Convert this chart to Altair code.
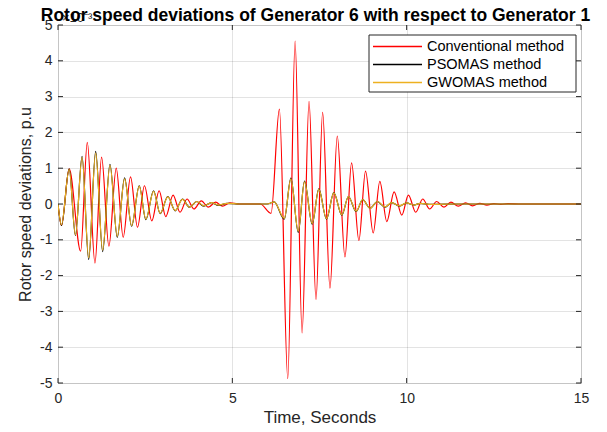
import altair as alt
import pandas as pd

# ---- data (values in units of 1e-3 p.u.) ----
conv_t = [0, 0.1, 0.32, 0.65, 0.84, 1.06, 1.25, 1.46, 1.67, 1.87, 2.08, 2.28, 2.48, 2.69, 2.9,
          3.09, 3.3, 3.5, 3.7, 3.9, 4.11, 4.31, 4.52, 4.72, 4.93, 5.2, 5.8, 6.11, 6.35, 6.59,
          6.80, 7.0, 7.2, 7.4, 7.59, 7.8, 8.01, 8.23, 8.42, 8.63, 8.82, 9.04, 9.23, 9.43, 9.64,
          9.86, 10.05, 10.26, 10.46, 10.66, 10.86, 11.07, 11.27, 11.48, 11.69, 11.89, 12.1,
          12.3, 12.5, 12.7, 12.9, 13.3, 15]
conv_v = [0, -0.6, 0.98, -1.32, 1.72, -1.65, 1.31, -1.18, 1.0, -0.93, 0.76, -0.65, 0.51, -0.47,
          0.37, -0.35, 0.25, -0.23, 0.14, -0.14, 0.09, -0.09, 0.05, -0.06, 0.03, 0, 0, -0.26,
          2.65, -4.88, 4.55, -3.6, 2.87, -2.67, 2.56, -2.35, 1.9, -1.48, 1.15, -1.02, 0.92,
          -0.81, 0.63, -0.49, 0.34, -0.31, 0.25, -0.23, 0.14, -0.14, 0.07, -0.09, 0.05, -0.06,
          0.03, -0.05, 0.02, -0.03, 0.01, -0.01, 0.01, 0, 0]

pso_t = [0, 0.1, 0.32, 0.5, 0.69, 0.88, 1.08, 1.28, 1.49, 1.70, 1.91, 2.11, 2.33, 2.52, 2.74,
         2.93, 3.15, 3.36, 3.57, 3.77, 3.98, 4.18, 4.4, 4.6, 4.85, 5.2, 6.0, 6.2, 6.49, 6.68,
         6.89, 7.07, 7.29, 7.48, 7.7, 7.91, 8.14, 8.33, 8.55, 8.74, 8.95, 9.16, 9.38, 9.57,
         9.79, 10.0, 10.2, 10.4, 10.7, 11.5, 15]
pso_v = [0, -0.6, 0.98, -0.88, 1.33, -1.55, 1.47, -1.33, 1.11, -0.93, 0.73, -0.62, 0.51, -0.44,
         0.37, -0.27, 0.21, -0.19, 0.14, -0.09, 0.07, -0.06, 0.04, -0.04, 0.02, 0, 0, 0.06,
         -0.42, 0.72, -0.79, 0.64, -0.56, 0.42, -0.42, 0.32, -0.31, 0.21, -0.21, 0.12, -0.12,
         0.07, -0.09, 0.04, -0.06, 0.03, -0.03, 0.02, -0.01, 0, 0]

gwo_t = [0, 0.1, 0.32, 0.5, 0.69, 0.88, 1.08, 1.28, 1.49, 1.70, 1.91, 2.11, 2.33, 2.52, 2.74,
         2.93, 3.15, 3.36, 3.57, 3.77, 3.98, 4.18, 4.4, 4.6, 4.85, 5.2, 6.0, 6.2, 6.49, 6.68,
         6.89, 7.07, 7.29, 7.48, 7.7, 7.91, 8.14, 8.33, 8.55, 8.74, 8.95, 9.16, 9.38, 9.57,
         9.79, 10.0, 10.2, 10.4, 10.7, 11.5, 15]
gwo_v = [0, -0.58, 0.97, -0.86, 1.3, -1.5, 1.42, -1.29, 1.08, -0.9, 0.7, -0.6, 0.49, -0.42,
         0.35, -0.26, 0.2, -0.18, 0.13, -0.09, 0.07, -0.05, 0.04, -0.03, 0.02, 0, 0, 0.06,
         -0.4, 0.7, -0.76, 0.62, -0.54, 0.41, -0.41, 0.31, -0.3, 0.21, -0.2, 0.12, -0.12,
         0.07, -0.08, 0.04, -0.05, 0.03, -0.03, 0.02, -0.01, 0, 0]

series = ["Conventional method", "PSOMAS method", "GWOMAS method"]
colors = ["#FF0000", "#000000", "#EDB120"]
x_ticks = [0, 5, 10, 15]
y_ticks = [-5, -4, -3, -2, -1, 0, 1, 2, 3, 4, 5]
title_text = "Rotor speed deviations of Generator 6 with respect to Generator 1"

W, H = 523, 358
FONT = "Liberation Sans"
TXT = "#262626"
MINUS = "replace(datum.label, '\u2212', '-')"

x_enc = alt.X("t:Q", scale=alt.Scale(domain=[0, 15], nice=False, zero=False),
              axis=alt.Axis(values=x_ticks, title="Time, Seconds", grid=True, domain=False,
                            ticks=False, labelPadding=8, titlePadding=4, labelFontSize=14,
                            titleFontSize=17, labelFont=FONT, titleFont=FONT,
                            labelColor=TXT, titleColor=TXT, titleFontWeight="normal",
                            gridColor=TXT, gridOpacity=0.13, labelFlush=False))
y_enc = alt.Y("v:Q", scale=alt.Scale(domain=[-5, 5], nice=False, zero=False),
              axis=alt.Axis(values=y_ticks, title="Rotor speed deviations, p.u", grid=True,
                            domain=False, ticks=False, labelPadding=6, titlePadding=6,
                            labelFontSize=14, titleFontSize=16, labelFont=FONT,
                            titleFont=FONT, labelColor=TXT, titleColor=TXT,
                            titleFontWeight="normal", gridColor=TXT, gridOpacity=0.13,
                            labelFlush=False, labelExpr=MINUS))

color_enc = alt.Color("method:N", scale=alt.Scale(domain=series, range=colors), legend=None)


def frame(t, v, name):
    return pd.DataFrame({"t": t, "v": v, "method": name})


layers = []
for t, v, name in [(conv_t, conv_v, series[0]), (pso_t, pso_v, series[1]), (gwo_t, gwo_v, series[2])]:
    layers.append(
        alt.Chart(frame(t, v, name)).mark_line(interpolate="monotone", strokeWidth=1.2, clip=True)
        .encode(x=x_enc, y=y_enc, color=color_enc)
    )

xt = pd.DataFrame({"t": x_ticks})
yt = pd.DataFrame({"v": y_ticks})
tick_style = dict(color=TXT, strokeWidth=1)
layers += [
    alt.Chart(xt).mark_rule(**tick_style).encode(x=x_enc, y=alt.value(H), y2=alt.value(H - 5)),
    alt.Chart(xt).mark_rule(**tick_style).encode(x=x_enc, y=alt.value(0), y2=alt.value(5)),
    alt.Chart(yt).mark_rule(**tick_style).encode(y=y_enc, x=alt.value(0), x2=alt.value(5)),
    alt.Chart(yt).mark_rule(**tick_style).encode(y=y_enc, x=alt.value(W), x2=alt.value(W - 5)),
]

one = alt.Data(values=[{"a": 1}])
# exponent label and title
layers += [
    alt.Chart(one).mark_text(text="×10⁻³", font=FONT, fontSize=13, color=TXT, align="left",
                             baseline="alphabetic").encode(x=alt.value(4), y=alt.value(-3)),
    alt.Chart(one).mark_text(text=title_text, font=FONT, fontSize=17.5, fontWeight="bold",
                             color="black", align="center", baseline="alphabetic")
    .encode(x=alt.value(W / 2 - 4), y=alt.value(-4)),
]

# legend box
LX0, LX1, LY0, LY1 = 311, 518, 10, 67
rows = [21.5, 39.5, 57.5]
layers.append(
    alt.Chart(one).mark_rect(fill="white", stroke=TXT, strokeWidth=1)
    .encode(x=alt.value(LX0), x2=alt.value(LX1), y=alt.value(LY0), y2=alt.value(LY1))
)
for name, col, ry in zip(series, colors, rows):
    layers.append(
        alt.Chart(one).mark_rule(color=col, strokeWidth=1.3)
        .encode(x=alt.value(315), x2=alt.value(364), y=alt.value(ry))
    )
    layers.append(
        alt.Chart(one).mark_text(text=name, font=FONT, fontSize=14.5, color="black",
                                 align="left", baseline="middle")
        .encode(x=alt.value(369), y=alt.value(ry))
    )

chart = alt.layer(*layers).properties(
    width=W, height=H,
    padding={"left": 58, "top": 25, "right": 26, "bottom": 49},
    autosize=alt.AutoSizeParams(type="none"),
).configure_view(stroke=TXT, strokeWidth=1).configure(background="white")

chart.save("out.html", embed_options={"renderer": "svg", "actions": False})
